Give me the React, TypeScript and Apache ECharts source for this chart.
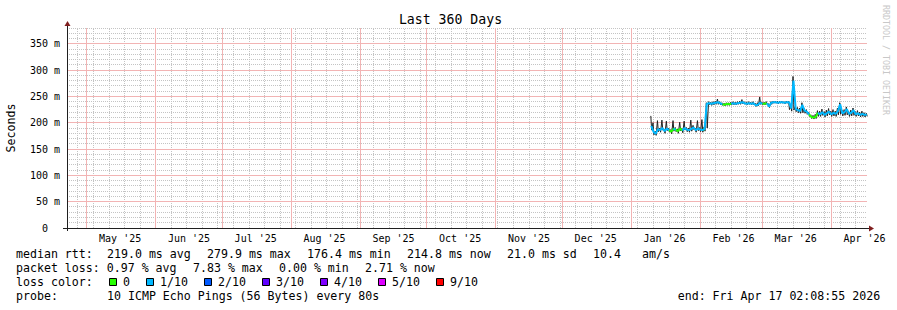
import { useEffect, useRef } from 'react';
import * as echarts from 'echarts';

const MONO = '"DejaVu Sans Mono", monospace';
const DAY_MS = 86400000;
const RANGE_START_UTC = Date.UTC(2025, 3, 22, 2, 8, 55);
const RANGE_DAYS = 360;
const Y_MAX = 380;

const title = 'Last 360 Days';
const yName = 'Seconds';
const credit = 'RRDTOOL / TOBI OETIKER';

const monthStarts = ['2025-05-01', '2025-06-01', '2025-07-01', '2025-08-01', '2025-09-01', '2025-10-01', '2025-11-01', '2025-12-01', '2026-01-01', '2026-02-01', '2026-03-01', '2026-04-01'];
const monthLabels = ["May '25", "Jun '25", "Jul '25", "Aug '25", "Sep '25", "Oct '25", "Nov '25", "Dec '25", "Jan '26", "Feb '26", "Mar '26", "Apr '26"];
const firstWeekLine = '2025-04-27';
const yTickValues = [0, 50, 100, 150, 200, 250, 300, 350];

// daily values starting at dataStart (ms)
const dataStart = '2026-01-10';
const medianMs = [
  194, 183, 179, 188, 186, 190, 184, 189, 186, 183, 188, 187, 184, 189, 185, 190, 187, 186, 188, 191, 186, 189, 187, 186, 188,
  236, 237, 236, 237, 238, 239, 237, 235, 234, 236, 235, 236, 237, 236, 237, 238, 239, 237, 236, 237, 236, 237, 233, 234, 238,
  236, 236, 237, 231, 238, 239, 239, 238, 239, 239, 238, 239, 239,
  227, 280, 226, 224, 222, 234, 223, 221, 216, 211, 210, 211, 219, 216, 220, 215, 218, 221, 216, 219, 217, 222, 235, 218, 220,
  226, 217, 219, 224, 216, 218, 215, 217, 215, 215,
];
const smokeHiMs = [
  213, 200, 184, 204, 190, 205, 188, 203, 190, 187, 204, 191, 188, 201, 189, 203, 191, 190, 205, 195, 190, 204, 191, 206, 192,
  238, 240, 239, 240, 241, 245, 240, 238, 237, 238, 238, 239, 240, 239, 240, 241, 244, 240, 239, 240, 239, 240, 237, 238, 249,
  239, 239, 240, 236, 240, 241, 241, 241, 241, 241, 240, 241, 241,
  232, 288, 231, 229, 228, 238, 227, 225, 220, 215, 214, 216, 223, 222, 226, 221, 224, 227, 222, 225, 222, 228, 238, 224, 225,
  230, 222, 224, 228, 221, 223, 220, 222, 219, 218,
];
const smokeLoMs = [
  186, 177, 176, 183, 182, 186, 180, 185, 182, 179, 184, 183, 180, 185, 181, 186, 183, 182, 184, 187, 182, 185, 183, 182, 184,
  190, 234, 233, 234, 235, 235, 234, 233, 232, 233, 233, 234, 234, 234, 235, 235, 236, 235, 234, 235, 234, 234, 231, 232, 235,
  234, 234, 234, 229, 235, 237, 237, 236, 237, 237, 236, 237, 225,
  222, 224, 221, 219, 218, 219, 218, 216, 212, 208, 207, 208, 212, 212, 214, 211, 213, 215, 212, 213, 212, 215, 216, 213, 214,
  215, 212, 213, 214, 212, 213, 211, 212, 211, 212,
];
const lossTenths = [
  1, 1, 1, 1, 1, 1, 1, 1, 0, 0, 1, 0, 0, 0, 1, 1, 1, 1, 1, 1, 1, 1, 1, 0, 1,
  1, 1, 1, 1, 1, 1, 1, 0, 0, 0, 0, 1, 1, 1, 1, 1, 1, 1, 1, 1, 1, 1, 1, 1, 1,
  0, 0, 1, 1, 1, 1, 1, 1, 1, 1, 1, 1, 1,
  1, 1, 1, 1, 1, 1, 1, 1, 0, 0, 0, 0, 1, 1, 1, 1, 1, 1, 1, 1, 1, 1, 1, 1, 1,
  1, 1, 1, 1, 1, 1, 1, 1, 1, 1,
];

const lossLevels = [0, 1, 2, 3, 4, 5, 9];
const lossLabels = ['0', '1/10', '2/10', '3/10', '4/10', '5/10', '9/10'];
const lossColors = ['#26ff00', '#00b8ff', '#0059ff', '#5e00ff', '#7e00ff', '#dd00ff', '#ff0000'];

const legendRow1 = ['median rtt:  219.0 ms avg', '279.9 ms max', '176.4 ms min', '214.8 ms now', '21.0 ms sd', '10.4   am/s'];
const legendRow2 = ['packet loss: 0.97 % avg', '7.83 % max', '0.00 % min', '2.71 % now'];
const legendRow3 = 'loss color:';
const legendRow4 = ['probe:       10 ICMP Echo Pings (56 Bytes) every 80s'];
const endLabel = 'end: Fri Apr 17 02:08:55 2026';

const GRID_LEFT = 67;
const GRID_TOP = 28;
const GRID_W = 800;
const GRID_H = 200;
const CHAR_W = 7;
const ITEM_GAP = 16;
const LEGEND_FONT = 11.6;
const MINOR_COLOR = '#c4c4c4';
const MAJOR_COLOR = '#f2b4b4';

function dayOffset(iso: string): number {
  return (Date.parse(iso + 'T00:00:00Z') - RANGE_START_UTC) / DAY_MS;
}

function textEl(text: string, x: number, y: number, extra: any = {}) {
  return {
    type: 'text',
    x,
    y,
    silent: true,
    style: {
      text,
      fontFamily: MONO,
      fontSize: LEGEND_FONT,
      fill: '#000',
      align: 'left',
      verticalAlign: 'middle',
      textAlign: 'left',
      textVerticalAlign: 'middle',
      ...extra,
    },
  };
}

// place an item as tokens at monospace columns so runs of spaces are kept
function itemEls(text: string, x: number, y: number) {
  const out: any[] = [];
  const re = /\S+(?: \S+)*/g;
  let m: RegExpExecArray | null;
  while ((m = re.exec(text)) !== null) {
    out.push(textEl(m[0], x + m.index * CHAR_W, y));
  }
  return out;
}

function rowEls(items: string[], y: number) {
  const out: any[] = [];
  let x = 16;
  for (const it of items) {
    out.push(...itemEls(it, x, y));
    x += it.length * CHAR_W + ITEM_GAP;
  }
  return out;
}

export default function App() {
  const ref = useRef<HTMLDivElement>(null);

  useEffect(() => {
    if (!ref.current) return;
    const chart = echarts.init(ref.current, undefined, { renderer: 'svg' });

    const x0 = dayOffset(dataStart);
    const xs = medianMs.map((_, i) => x0 + i);

    const monthX = monthStarts.map(dayOffset);
    const monthMid = monthX.map((v) => v + 15);
    const weekX: number[] = [];
    for (let w = dayOffset(firstWeekLine); w < RANGE_DAYS; w += 7) {
      if (!monthX.some((m) => Math.abs(m - w) < 0.5)) weekX.push(w);
    }

    const majorY = yTickValues.filter((v) => v > 0);
    const minorY: number[] = [];
    for (let v = 10; v <= Y_MAX; v += 10) if (!majorY.includes(v)) minorY.push(v);

    const smokeData: any[] = [];
    xs.forEach((x, i) => {
      smokeData.push([x - 0.2, smokeHiMs[i]]);
      smokeData.push([x + 0.2, smokeLoMs[i]]);
    });

    const lossSeries = lossLevels.map((lvl, k) => ({
      type: 'line',
      name: lossLabels[k],
      z: 5 + k,
      symbol: 'none',
      silent: true,
      lineStyle: { color: lossColors[k], width: 2 },
      itemStyle: { color: lossColors[k] },
      data: medianMs.map((v, i) =>
        lossTenths[i] === lvl || (i > 0 && lossTenths[i - 1] === lvl) ? [xs[i], v] : [xs[i], null]
      ),
    }));

    const gridSeries = (items: number[][], color: string, dash: number[] | null, z: number, name: string) => ({
      type: 'custom',
      name,
      z,
      silent: true,
      clip: false,
      data: items,
      renderItem: (params: any, api: any) => {
        const vx = api.value(0);
        const vy = api.value(1);
        const style: any = { stroke: color, fill: null, lineWidth: 1 };
        if (dash) style.lineDash = dash;
        if (vy < 0) {
          const a = api.coord([vx, 0]);
          const b = api.coord([vx, Y_MAX]);
          const x = Math.round(a[0] - 0.5) + 0.5;
          return { type: 'line', silent: true, shape: { x1: x, y1: a[1], x2: x, y2: b[1] }, style };
        }
        const a = api.coord([0, vy]);
        const b = api.coord([RANGE_DAYS, vy]);
        const y = Math.round(a[1] - 0.5) + 0.5;
        return { type: 'line', silent: true, shape: { x1: a[0], y1: y, x2: b[0], y2: y }, style };
      },
    });

    const g: any[] = [];
    g.push(textEl(title, 450.5, 19, { fontSize: 13.2, align: 'center', textAlign: 'center' }));
    g.push({
      type: 'text', x: 11, y: GRID_TOP + GRID_H / 2, rotation: Math.PI / 2, silent: true,
      style: { text: yName, fontFamily: MONO, fontSize: LEGEND_FONT, fill: '#000', align: 'center', verticalAlign: 'middle', textAlign: 'center', textVerticalAlign: 'middle' },
    });
    g.push({
      type: 'text', x: 886, y: 60, rotation: -Math.PI / 2, silent: true,
      style: { text: credit, fontFamily: MONO, fontSize: 8.3, fill: '#c8c8c8', align: 'center', verticalAlign: 'middle', textAlign: 'center', textVerticalAlign: 'middle' },
    });
    g.push(...rowEls(legendRow1, 254));
    g.push(...rowEls(legendRow2, 268));
    g.push(...itemEls(legendRow3, 16, 282));
    let bx = 16 + legendRow3.length * CHAR_W + ITEM_GAP;
    lossLabels.forEach((lab, k) => {
      g.push({
        type: 'rect', silent: true,
        shape: { x: bx + 0.5, y: 278.5, width: 7, height: 7 },
        style: { fill: lossColors[k], stroke: '#000', lineWidth: 1 },
      });
      g.push(textEl(lab, bx + 14, 282));
      bx += 14 + lab.length * CHAR_W + ITEM_GAP;
    });
    g.push(...rowEls(legendRow4, 296));
    g.push(textEl(endLabel, 677.7, 296));

    const axisColor = '#1f1f1f';
    const arrowColor = '#801f1f';
    const axY = GRID_TOP + GRID_H + 0.5;
    const axX = GRID_LEFT + 0.5;
    g.push({ type: 'line', silent: true, shape: { x1: GRID_LEFT - 4, y1: axY, x2: GRID_LEFT, y2: axY }, style: { stroke: axisColor, lineWidth: 1 } });
    g.push({ type: 'line', silent: true, shape: { x1: GRID_LEFT + GRID_W, y1: axY, x2: GRID_LEFT + GRID_W + 3, y2: axY }, style: { stroke: axisColor, lineWidth: 1 } });
    g.push({ type: 'line', silent: true, shape: { x1: axX, y1: GRID_TOP + GRID_H, x2: axX, y2: GRID_TOP + GRID_H + 3 }, style: { stroke: axisColor, lineWidth: 1 } });
    g.push({ type: 'line', silent: true, shape: { x1: axX, y1: GRID_TOP, x2: axX, y2: GRID_TOP - 3 }, style: { stroke: axisColor, lineWidth: 1 } });
    g.push({ type: 'polygon', silent: true, shape: { points: [[axX - 3, GRID_TOP - 2], [axX, GRID_TOP - 7], [axX + 3, GRID_TOP - 2]] }, style: { fill: arrowColor } });
    const rx = GRID_LEFT + GRID_W + 2;
    g.push({ type: 'polygon', silent: true, shape: { points: [[rx, axY - 3], [rx + 5, axY], [rx, axY + 3]] }, style: { fill: arrowColor } });

    chart.setOption({
      animation: false,
      backgroundColor: '#ffffff',
      grid: { left: GRID_LEFT, top: GRID_TOP, width: GRID_W, height: GRID_H, containLabel: false },
      xAxis: {
        type: 'value',
        min: 0,
        max: RANGE_DAYS,
        z: 2,
        axisLine: { show: true, lineStyle: { color: axisColor, width: 1 } },
        axisTick: { show: false },
        splitLine: { show: false },
        axisLabel: {
          customValues: monthMid,
          margin: 5,
          fontFamily: MONO,
          fontSize: 10,
          color: '#000',
          formatter: (v: number) => {
            let best = 0;
            monthMid.forEach((m, i) => { if (Math.abs(m - v) < Math.abs(monthMid[best] - v)) best = i; });
            return monthLabels[best];
          },
        },
      },
      yAxis: {
        type: 'value',
        min: 0,
        max: Y_MAX,
        z: 2,
        axisLine: { show: true, lineStyle: { color: axisColor, width: 1 } },
        axisTick: { show: false },
        splitLine: { show: false },
        axisLabel: {
          customValues: yTickValues,
          margin: 7,
          fontFamily: MONO,
          fontSize: 10,
          color: '#000',
          formatter: (v: number) => (v === 0 ? '0\u00a0\u00a0' : `${v} m`),
        },
      },
      graphic: g,
      series: [
        gridSeries([...weekX.map((v) => [v, -1]), ...minorY.map((v) => [0, v])], MINOR_COLOR, [1, 1], 1, 'minor grid'),
        gridSeries([...monthX.map((v) => [v, -1]), ...majorY.map((v) => [0, v])], MAJOR_COLOR, null, 2, 'major grid'),
        {
          type: 'line', name: 'smoke', z: 3, symbol: 'none', silent: true,
          lineStyle: { color: '#222', width: 1 },
          data: smokeData,
        },
        ...lossSeries,
      ],
    } as any);

    return () => chart.dispose();
  }, []);

  return <div ref={ref} style={{ position: 'fixed', left: 0, top: 0, width: 897, height: 310 }} />;
}
